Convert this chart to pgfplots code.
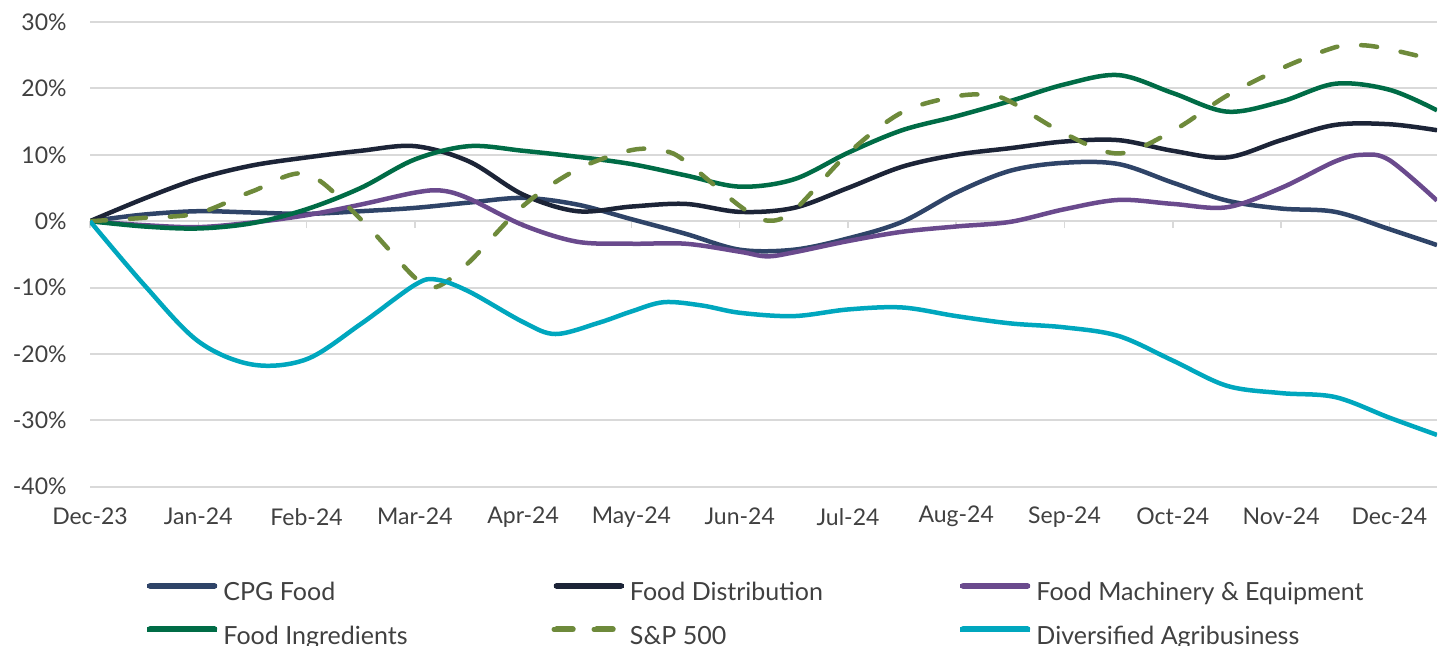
\documentclass[border=0pt]{standalone}
\usepackage{pgfplots}
\pgfplotsset{compat=1.18}
\usepackage{fontspec}
\setmainfont{Lato}

\definecolor{cpg}{HTML}{2F4468}
\definecolor{dist}{HTML}{1C2437}
\definecolor{mach}{HTML}{6A4A8D}
\definecolor{ingr}{HTML}{006C46}
\definecolor{spx}{HTML}{6E8A3B}
\definecolor{agri}{HTML}{00A7BE}
\definecolor{gridgray}{HTML}{D9D9D9}
\definecolor{txt}{HTML}{404040}

\begin{document}
\begin{tikzpicture}
% 1 px of the reference = 0.5bp
\useasboundingbox (-45bp,-79.65bp) rectangle (680bp,243.35bp);

% tick marks on the 0% line
\begin{axis}[
  scale only axis, width=673.5bp, height=232.35bp,
  xmin=0, xmax=12.44, ymin=-40, ymax=30,
  axis x line=middle, axis y line=none,
  x axis line style={draw=none},
  xtick={0,...,12}, xticklabels={},
  tick align=outside, major tick length=3.5bp,
  xtick style={draw=gridgray, line width=0.75bp},
]
\end{axis}

\begin{axis}[
  scale only axis, width=673.5bp, height=232.35bp,
  xmin=0, xmax=12.44, ymin=-40, ymax=30,
  axis line style={draw=none},
  major tick length=0pt,
  ytick={-40,-30,...,30},
  yticklabels={-40\%,-30\%,-20\%,-10\%,0\%,10\%,20\%,30\%},
  xtick={0,...,12},
  xticklabels={Dec-23,Jan-24,Feb-24,Mar-24,Apr-24,May-24,Jun-24,Jul-24,Aug-24,Sep-24,Oct-24,Nov-24,Dec-24},
  ymajorgrids, grid style={draw=gridgray, line width=1bp},
  tick label style={font=\fontsize{11.5bp}{13bp}\selectfont, text=txt, inner sep=0pt},
  yticklabel style={anchor=east, xshift=-11.5bp},
  xticklabel style={anchor=center, yshift=-15bp},
  every axis plot/.append style={line width=2.25bp, smooth, tension=0.55, no markers},
  legend columns=3,
  legend style={draw=none, fill=none, inner sep=0pt, outer sep=0pt,
    at={(27.5bp,-48.1bp)}, anchor=north west,
    font=\fontsize{12.5bp}{14bp}\selectfont, text=txt,
    nodes={inner sep=0pt, text height=8.6bp, text depth=2.4bp},
    row sep=10.3bp,
    /tikz/every odd column/.append style={column sep=2bp},
    /tikz/every even column/.append style={column sep=4bp}},
  legend image code/.code={%
    \path (0bp,4.4bp) -- (35bp,4.4bp);
    \draw[#1, line width=3bp, line cap=round] (1.5bp,4.4bp) -- (33.5bp,4.4bp);},
]
\addplot[cpg] coordinates {
  (0,0)(0.5,1.0)(1,1.5)(1.5,1.3)(2,1.1)(2.5,1.5)(3,2.0)(3.5,2.8)(4,3.5)(4.5,2.5)
  (5,0.3)(5.5,-1.9)(6,-4.3)(6.5,-4.3)(7,-2.6)(7.5,-0.1)(8,4.3)(8.5,7.6)(9,8.8)
  (9.5,8.6)(10,5.8)(10.5,3.1)(11,1.9)(11.5,1.4)(12,-1.2)(12.44,-3.6)};
\addlegendentry{\makebox[160bp][l]{CPG Food}}
\addplot[dist] coordinates {
  (0,0)(0.5,3.4)(1,6.4)(1.5,8.4)(2,9.6)(2.5,10.6)(3,11.3)(3.5,9.0)(4,4.0)(4.5,1.5)
  (5,2.2)(5.5,2.6)(6,1.4)(6.5,2.0)(7,5.0)(7.5,8.2)(8,10.0)(8.5,11.0)(9,12.0)
  (9.5,12.2)(10,10.6)(10.5,9.6)(11,12.2)(11.5,14.5)(12,14.6)(12.44,13.7)};
\addlegendentry{\makebox[160bp][l]{Food Distribution}}
\addplot[mach] coordinates {
  (0,0)(0.5,-0.6)(1,-0.9)(1.5,-0.2)(2,0.9)(2.5,2.5)(3,4.3)(3.25,4.6)(3.5,3.4)
  (4,-0.6)(4.5,-3.1)(5,-3.4)(5.5,-3.4)(6,-4.6)(6.25,-5.3)(6.5,-4.7)(7,-3.0)
  (7.5,-1.6)(8,-0.8)(8.5,-0.1)(9,1.8)(9.5,3.2)(10,2.6)(10.5,2.1)(11,5.0)
  (11.5,9.0)(11.75,10.0)(12,9.2)(12.44,3.1)};
\addlegendentry{\makebox[160bp][l]{Food Machinery \& Equipment}}
\addplot[ingr] coordinates {
  (0,0)(0.5,-0.8)(1,-1.1)(1.5,-0.3)(2,1.8)(2.5,5.0)(3,9.3)(3.5,11.3)(4,10.6)
  (4.5,9.7)(5,8.6)(5.5,6.9)(6,5.2)(6.5,6.3)(7,10.3)(7.5,13.7)(8,15.8)(8.5,18.1)
  (9,20.6)(9.5,22.0)(10,19.3)(10.5,16.5)(11,18.0)(11.5,20.7)(12,19.8)(12.44,16.7)};
\addlegendentry{\makebox[160bp][l]{Food Ingredients}}
\addplot[spx, line cap=round, dash pattern=on 8bp off 12bp] coordinates {
  (0,0)(0.5,0.5)(1,1.2)(1.5,4.5)(2,7.1)(2.5,0.3)(3,-8.5)(3.2,-9.9)(3.5,-6.2)
  (4,2.3)(4.5,7.8)(5,10.7)(5.3,10.6)(5.5,9.0)(6,2.3)(6.25,0.1)(6.5,1.6)(7,10.2)
  (7.5,16.4)(8,18.8)(8.3,19.0)(8.5,18.0)(9,13.2)(9.5,10.2)(10,13.6)(10.5,18.9)
  (11,23.0)(11.5,26.2)(11.75,26.5)(12,25.9)(12.44,24.2)};
\addlegendentry{\makebox[160bp][l]{S\&P 500}}
\addplot[agri] coordinates {
  (0,0)(0.5,-9.6)(1,-18.1)(1.5,-21.6)(2,-20.8)(2.5,-15.5)(3,-9.6)(3.2,-8.8)
  (3.5,-10.6)(4,-15.2)(4.3,-17.0)(4.7,-15.3)(5,-13.6)(5.3,-12.2)(5.65,-12.7)(6,-13.8)
  (6.5,-14.3)(7,-13.3)(7.5,-13.0)(8,-14.3)(8.5,-15.4)(9,-16.0)(9.5,-17.3)
  (10,-21.0)(10.5,-24.8)(11,-25.9)(11.5,-26.5)(12,-29.6)(12.44,-32.2)};
\addlegendentry{\makebox[160bp][l]{Diversified Agribusiness}}
\end{axis}
\end{tikzpicture}
\end{document}
